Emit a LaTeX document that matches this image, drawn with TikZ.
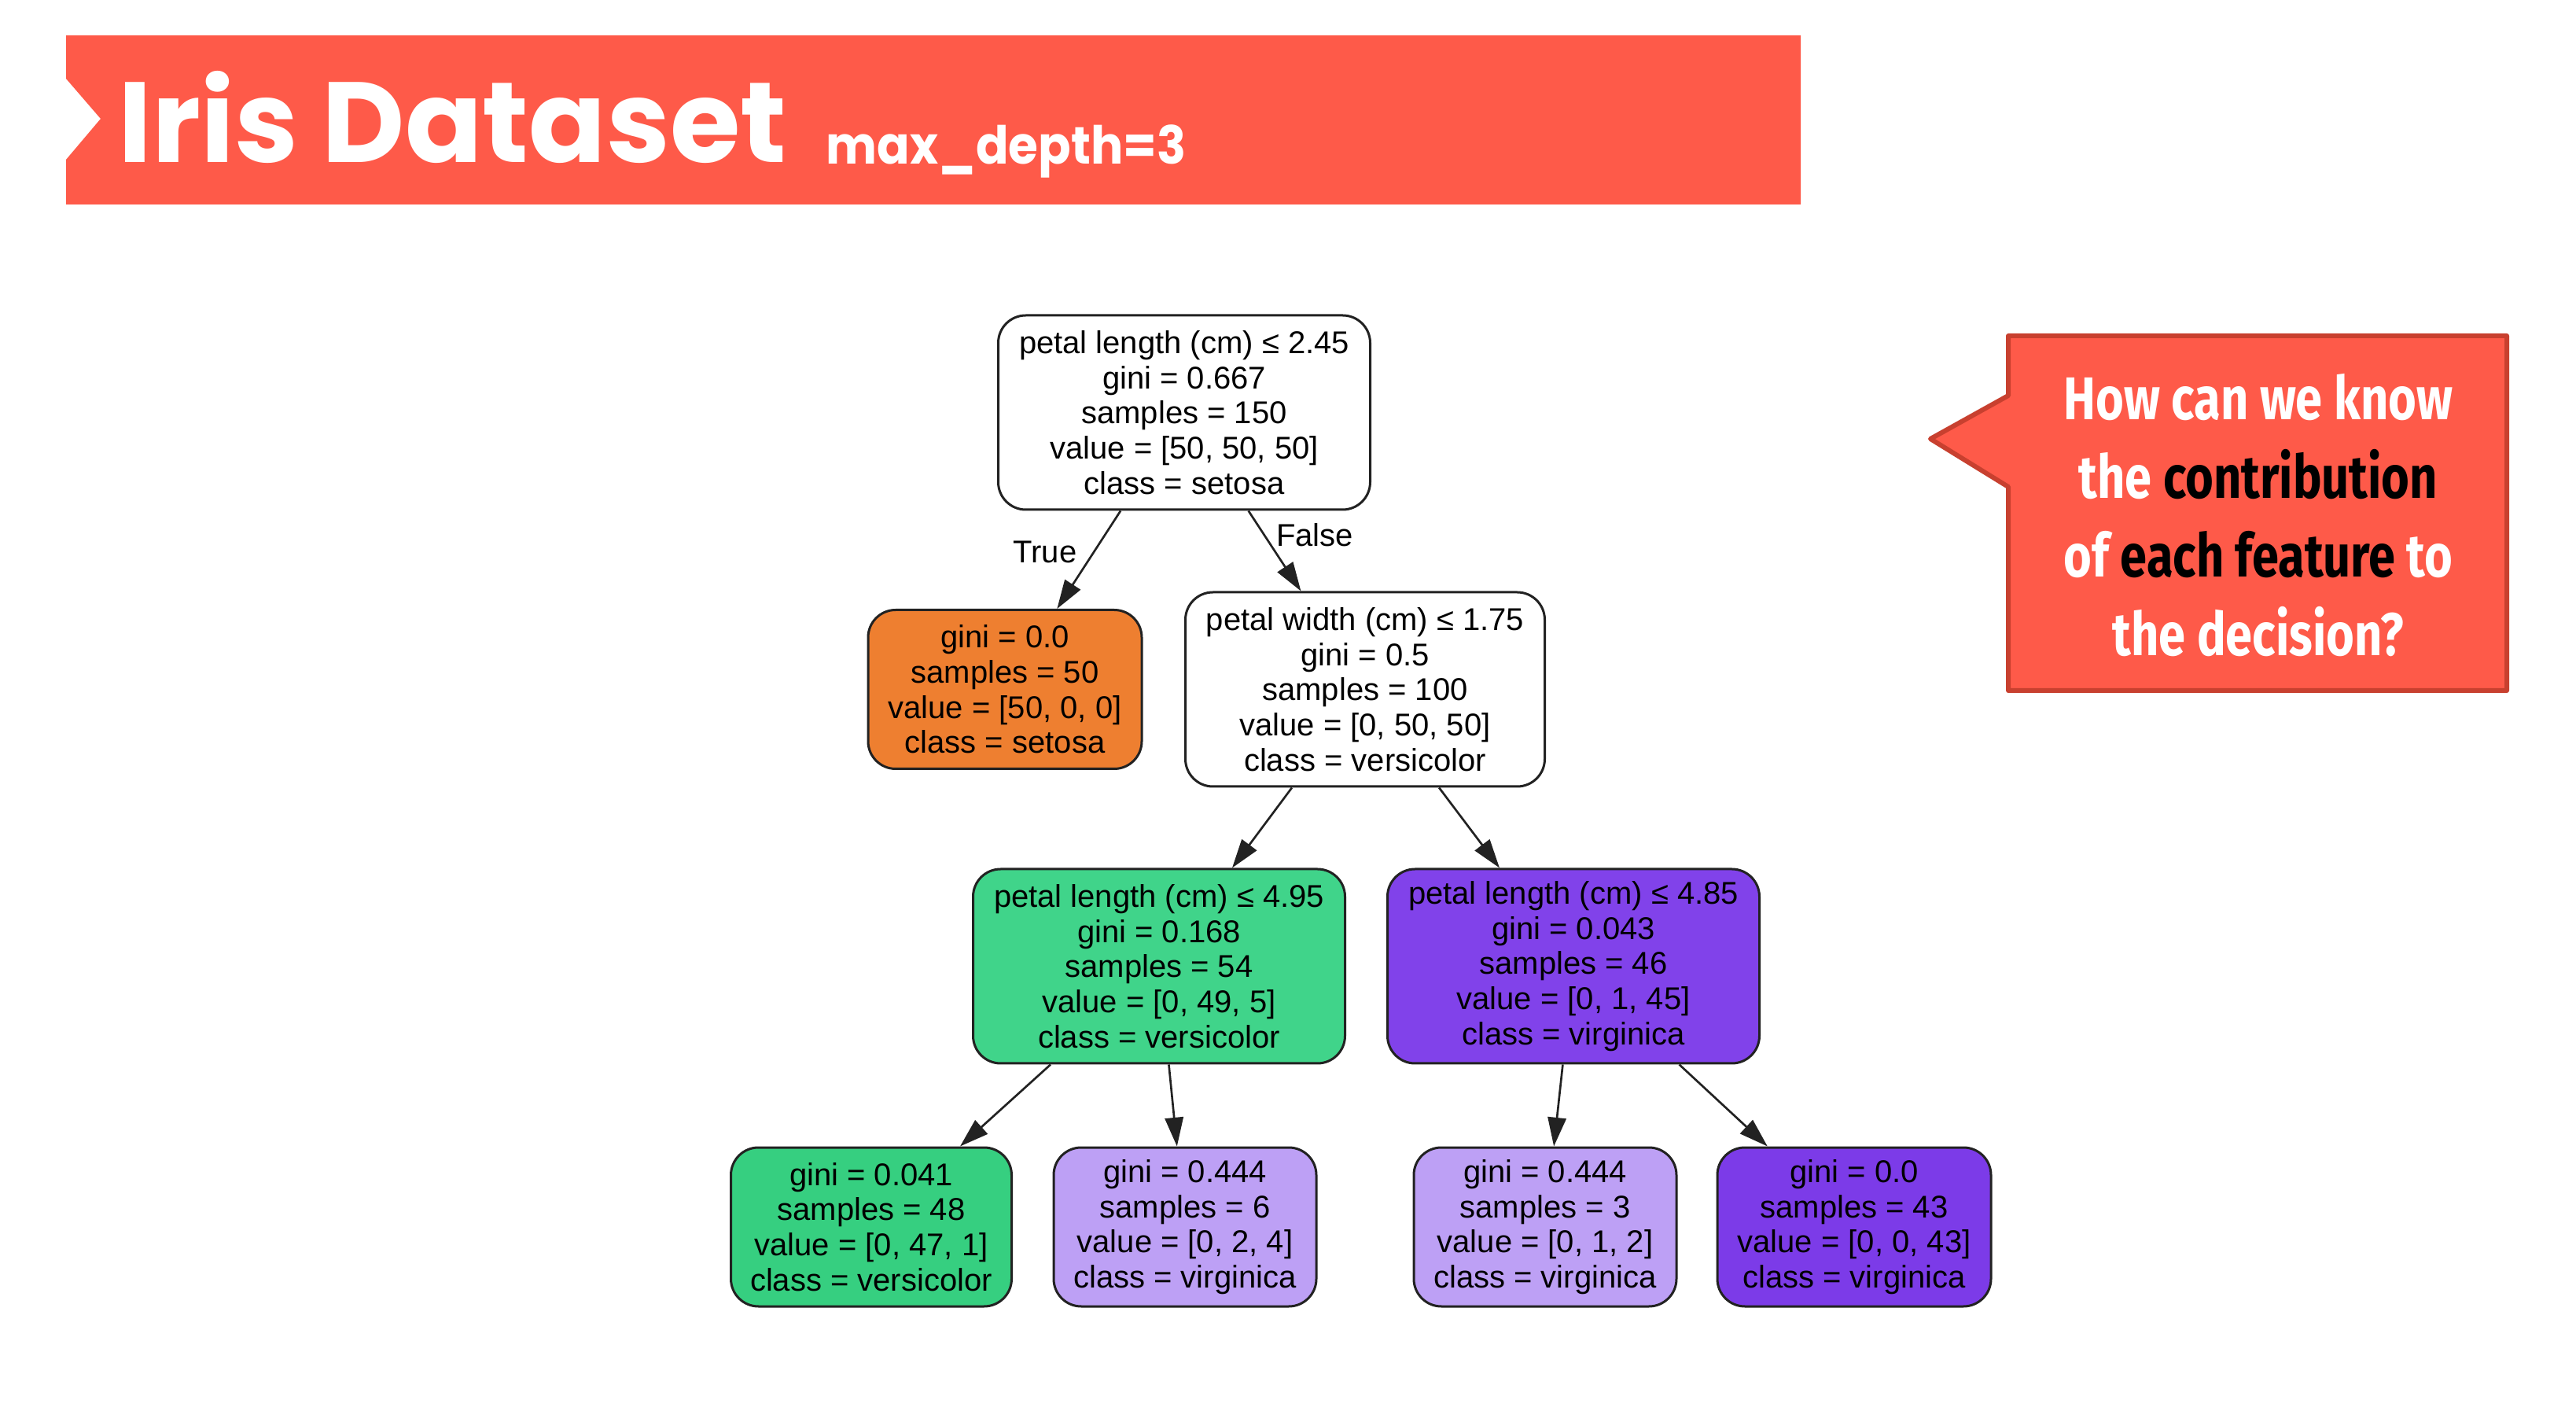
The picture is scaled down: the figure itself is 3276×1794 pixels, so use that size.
\documentclass[tikz,border=0pt]{standalone}
\usepackage{fontspec}
\setmainfont{Liberation Sans}
\newfontfamily\titlefont{Poppins}
\newfontfamily\subfont{Poppins}[FakeStretch=0.92]
\newfontfamily\callfont{Fira Sans}[FakeStretch=0.8]
\usetikzlibrary{arrows.meta}
\definecolor{banner}{HTML}{FE5A49}
\definecolor{callborder}{HTML}{C8402F}
\definecolor{borange}{HTML}{EE7F30}
\definecolor{bgreenA}{HTML}{40D48A}
\definecolor{bgreenB}{HTML}{36CF80}
\definecolor{bpurpA}{HTML}{8142EA}
\definecolor{bpurpB}{HTML}{7C3BE8}
\definecolor{blight}{HTML}{BDA0F5}
\definecolor{edgeink}{HTML}{222222}
\tikzset{
  tnode/.style={draw=edgeink, line width=0.9pt, rounded corners=10.5pt,
    align=center, inner sep=0pt, text=black,
    font=\fontsize{12}{13.4}\selectfont},
  bigbox/.style={tnode, minimum height=74.1pt},
  smallbox/.style={tnode, minimum height=60.6pt},
  treeedge/.style={draw=edgeink, line width=0.8pt, -{Triangle[length=11pt,width=7pt]}},
  edgelabel/.style={inner sep=0pt, font=\fontsize{12}{13.4}\selectfont},
}
\begin{document}
\begin{tikzpicture}[x=0.3pt,y=-0.3pt]
\useasboundingbox (0,0) rectangle (3276,1794);
\fill[white] (0,0) rectangle (3276,1794);
% banner
\fill[banner] (84,45) -- (2290,45) -- (2290,260) -- (84,260) -- (84,203) -- (128,151) -- (84,100) -- cycle;
\node[anchor=base west, text=white, inner sep=0pt,
  font=\titlefont\bfseries\fontsize{43.5}{43.5}\selectfont] (title) at (150,207) {Iris Dataset};
\node[anchor=base west, text=white, inner sep=0pt,
  font=\subfont\bfseries\fontsize{20}{20}\selectfont] (sub) at (1050,209) {max\_depth=3};
% callout
\draw[line width=1.8pt, draw=callborder, fill=banner, line join=round]
  (2554,427) -- (3188,427) -- (3188,878) -- (2554,878) -- (2554,619) -- (2455,558) -- (2554,503) -- cycle;
\node[align=center, text=white, inner sep=0pt,
  font=\callfont\bfseries\fontsize{23}{30}\selectfont] (question) at (2872,655)
  {How can we know\\
   the \textcolor{black}{contribution}\\
   of \textcolor{black}{each feature} to\\
   the decision?};
% tree nodes
\node[bigbox, fill=white, minimum width=141.9pt] (root) at (1506,524.5)
  {petal length (cm) ≤ 2.45\\gini = 0.667\\samples = 150\\value = [50, 50, 50]\\class = setosa};
\node[smallbox, fill=borange, minimum width=104.4pt] (n2) at (1278,876.5)
  {gini = 0.0\\samples = 50\\value = [50, 0, 0]\\class = setosa};
\node[bigbox, fill=white, minimum width=137.1pt] (n3) at (1736,876.5)
  {petal width (cm) ≤ 1.75\\gini = 0.5\\samples = 100\\value = [0, 50, 50]\\class = versicolor};
\node[bigbox, fill=bgreenA, minimum width=141.9pt] (n4) at (1474,1228.5)
  {petal length (cm) ≤ 4.95\\gini = 0.168\\samples = 54\\value = [0, 49, 5]\\class = versicolor};
\node[bigbox, fill=bpurpA, minimum width=141.9pt] (n5) at (2001,1228.5)
  {petal length (cm) ≤ 4.85\\gini = 0.043\\samples = 46\\value = [0, 1, 45]\\class = virginica};
\node[smallbox, fill=bgreenB, minimum width=107.1pt] (n6) at (1108,1560)
  {gini = 0.041\\samples = 48\\value = [0, 47, 1]\\class = versicolor};
\node[smallbox, fill=blight, minimum width=100.2pt] (n7) at (1507,1560)
  {gini = 0.444\\samples = 6\\value = [0, 2, 4]\\class = virginica};
\node[smallbox, fill=blight, minimum width=100.2pt] (n8) at (1965,1560)
  {gini = 0.444\\samples = 3\\value = [0, 1, 2]\\class = virginica};
\node[smallbox, fill=bpurpB, minimum width=104.4pt] (n9) at (2358,1560)
  {gini = 0.0\\samples = 43\\value = [0, 0, 43]\\class = virginica};
% edges
\draw[treeedge] (root) -- (n2);
\draw[treeedge] (root) -- (n3);
\draw[treeedge] (n3) -- (n4);
\draw[treeedge] (n3) -- (n5);
\draw[treeedge] (n4) -- (n6);
\draw[treeedge] (n4) -- (n7);
\draw[treeedge] (n5) -- (n8);
\draw[treeedge] (n5) -- (n9);
\node[edgelabel] (truelab) at (1329,702) {True};
\node[edgelabel] (falselab) at (1672,680) {False};
\end{tikzpicture}
\end{document}
